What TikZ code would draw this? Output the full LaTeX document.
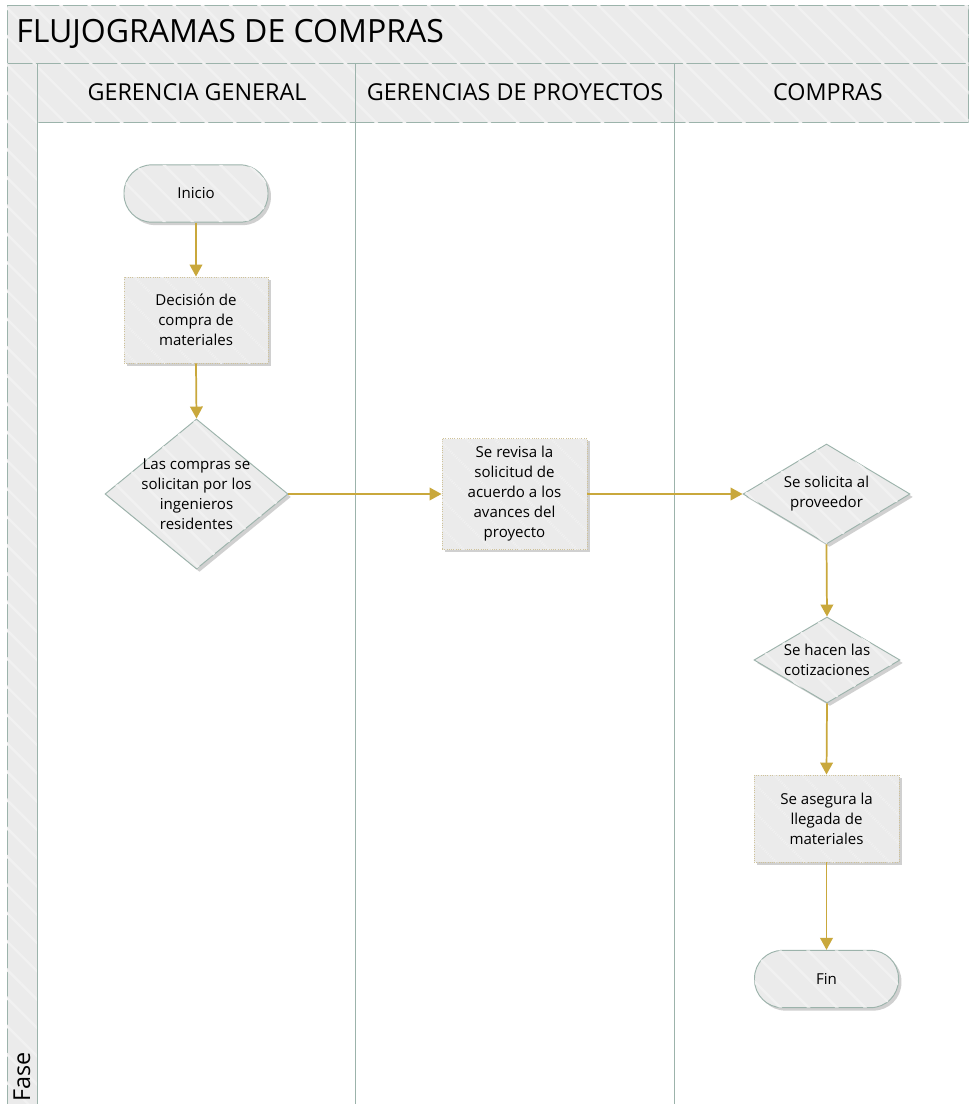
\documentclass[tikz,border=0pt]{standalone}
\usepackage{fontspec}
\setmainfont{Open Sans}
\usetikzlibrary{arrows.meta,shapes.geometric,shadows,patterns.meta}

\definecolor{paneFill}{HTML}{EBEBEB}
\definecolor{hatchCol}{HTML}{F1F1F1}
\definecolor{frameCol}{HTML}{9CB3AB}
\definecolor{boxEdge}{HTML}{CFC299}
\definecolor{flowCol}{HTML}{C9A83C}

\begin{document}
\begin{tikzpicture}[x=0.75pt,y=-0.75pt,
  hatch/.style={postaction={pattern={Lines[angle=-45,distance=15pt,line width=1.8pt]},pattern color=hatchCol}},
  pane/.style={fill=paneFill,draw=frameCol,line width=0.6pt,hatch},
  shade/.style={drop shadow={shadow xshift=2.2pt,shadow yshift=-2.2pt,fill=black!30,opacity=0.6}},
  boxfont/.style={font=\fontsize{11.3}{15}\selectfont},
  proc/.style={rectangle,fill=paneFill,draw=boxEdge,line width=0.7pt,densely dotted,shade,hatch,
    align=center,boxfont,inner sep=2pt},
  term/.style={rectangle,rounded corners=21pt,fill=paneFill,draw=frameCol,line width=0.7pt,shade,hatch,
    minimum width=108pt,minimum height=43pt,boxfont},
  dia/.style={diamond,fill=paneFill,draw=frameCol,line width=0.7pt,shade,hatch,inner sep=0pt},
  dtext/.style={align=center,boxfont,inner sep=0pt},
  lanehead/.style={font=\fontsize{17.5}{20}\selectfont},
  flow/.style={draw=flowCol,line width=1.3pt,-{Triangle[length=9pt,width=9.5pt]}}
]
\useasboundingbox (0,0) rectangle (969,1104);

% pool frame: title band, phase column, lane headers
\fill[white] (0,0) rectangle (969,1104);
\path[pane] (7,5) rectangle (968.5,63);
\path[pane] (7,63) rectangle (37,1104);
\path[pane] (37,63) rectangle (968.5,122);
\draw[frameCol,line width=0.6pt] (355,63) -- (355,1104);
\draw[frameCol,line width=0.6pt] (674,63) -- (674,1104);
\draw[frameCol,line width=0.6pt] (37,63) -- (37,1104);

\node[anchor=west,inner sep=0pt,font=\fontsize{24}{28}\selectfont] (title) at (16,34) {FLUJOGRAMAS DE COMPRAS};
\node[lanehead] (laneA) at (197,92.5) {GERENCIA GENERAL};
\node[lanehead] (laneB) at (515,92.5) {GERENCIAS DE PROYECTOS};
\node[lanehead] (laneC) at (828,92.5) {COMPRAS};
\node[lanehead,rotate=90,anchor=west,inner sep=0pt] (fase) at (22,1102) {Fase};

% flow shapes
\node[term] (inicio) at (196,193.5) {Inicio};
\node[proc,minimum width=108pt,minimum height=64.5pt] (decision) at (196,320)
  {Decisión de\\compra de\\materiales};
\node[dia,minimum width=137.25pt,minimum height=112.5pt] (solicitan) at (196.5,494) {};
\node[dtext] (solicitanT) at (solicitan.center) {Las compras se\\solicitan por los\\ingenieros\\residentes};
\node[proc,minimum width=108.75pt,minimum height=83.25pt] (revisa) at (514.5,494)
  {Se revisa la\\solicitud de\\acuerdo a los\\avances del\\proyecto};
\node[dia,minimum width=125.25pt,minimum height=75pt] (proveedor) at (826.5,494) {};
\node[dtext] (proveedorT) at (proveedor.center) {Se solicita al\\proveedor};
\node[dia,minimum width=109.5pt,minimum height=64.5pt] (cotiza) at (827,660) {};
\node[dtext] (cotizaT) at (cotiza.center) {Se hacen las\\cotizaciones};
\node[proc,minimum width=108.75pt,minimum height=65.25pt] (asegura) at (826.5,818.5)
  {Se asegura la\\llegada de\\materiales};
\node[term] (fin) at (826.5,979) {Fin};

% connectors
\draw[flow] (inicio.south) -- (decision.north);
\draw[flow] (decision.south) -- (solicitan.north);
\draw[flow] (solicitan.east) -- (revisa.west);
\draw[flow] (revisa.east) -- (proveedor.west);
\draw[flow] (proveedor.south) -- (cotiza.north);
\draw[flow] (cotiza.south) -- (asegura.north);
\draw[flow] (asegura.south) -- (fin.north);
\end{tikzpicture}
\end{document}
